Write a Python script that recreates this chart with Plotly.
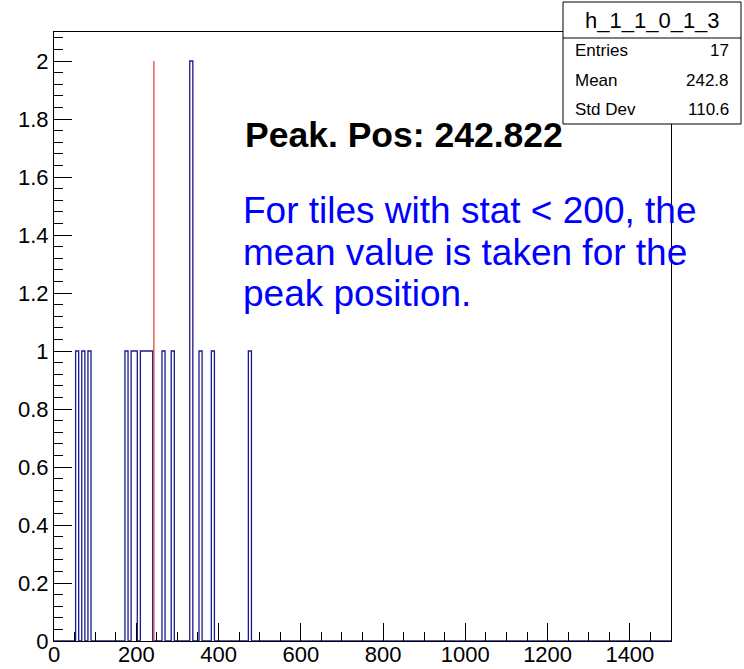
import numpy as np
import plotly.graph_objects as go

# ---------------- data ----------------
hist_name = "h_1_1_0_1_3"
x_min, x_max, n_bins = 0.0, 1500.0, 200
bin_low_edges = [52.5, 67.5, 82.5, 172.5, 187.5, 195.0, 210.0, 217.5, 225.0, 232.5,
                 262.5, 285.0, 330.0, 352.5, 382.5, 472.5]
bin_counts = [1, 1, 1, 1, 1, 1, 1, 1, 1, 1, 1, 1, 2, 1, 1, 1]
peak_pos = 242.822
peak_height = 2
stat_labels = ["Entries", "Mean", "Std Dev"]
stat_values = ["17", "242.8", "110.6"]
peak_text = "Peak. Pos: 242.822"
note_lines = ["For tiles with stat < 200, the", "mean value is taken for the", "peak position."]
x_tick_vals = [0, 200, 400, 600, 800, 1000, 1200, 1400]
y_range = [0, 2.1]

# ---------------- build full histogram ----------------
bw = (x_max - x_min) / n_bins
edges = x_min + bw * np.arange(n_bins + 1)
full = np.zeros(n_bins)
for lo, c in zip(bin_low_edges, bin_counts):
    full[int(round((lo - x_min) / bw))] += c
step_x = edges
step_y = np.append(full, full[-1])

FONT = "Liberation Sans, Arial, Helvetica, sans-serif"
W, H = 744, 669
L, R, T, B = 54, 73, 32, 28
pw, ph = W - L - R, H - T - B


def px(p):
    return (p - L) / pw


def py(p):
    return (H - B - p) / ph


fig = go.Figure()
fig.add_trace(go.Scatter(x=step_x, y=step_y, mode="lines", line_shape="hv",
                         line=dict(color="#1a1a8c", width=1.3), showlegend=False,
                         hoverinfo="skip"))
fig.add_trace(go.Scatter(x=[peak_pos, peak_pos], y=[0, peak_height], mode="lines",
                         line=dict(color="#ee3030", width=1.2), showlegend=False))

shapes = []
# stats box
bx0, bx1, by0, by1, bsep = 563, 741, 2, 124, 38
shapes.append(dict(type="rect", xref="paper", yref="paper", x0=px(bx0), x1=px(bx1),
                   y0=py(by1), y1=py(by0), line=dict(color="black", width=1),
                   fillcolor="white", layer="above"))
shapes.append(dict(type="line", xref="paper", yref="paper", x0=px(bx0), x1=px(bx1),
                   y0=py(bsep), y1=py(bsep), line=dict(color="black", width=1), layer="above"))

ann = []
ann.append(dict(x=px((bx0 + bx1) / 2), y=py(20), xref="paper", yref="paper", text=hist_name,
                showarrow=False, xanchor="center", yanchor="middle",
                font=dict(family=FONT, size=22, color="black")))
row_y = [51, 80, 110]
for lab, val, yy in zip(stat_labels, stat_values, row_y):
    ann.append(dict(x=px(bx0 + 10), y=py(yy), xref="paper", yref="paper", text=lab,
                    showarrow=False, xanchor="left", yanchor="middle",
                    font=dict(family=FONT, size=17, color="black")))
    ann.append(dict(x=px(bx1 - 10), y=py(yy), xref="paper", yref="paper", text=val,
                    showarrow=False, xanchor="right", yanchor="middle",
                    font=dict(family=FONT, size=17, color="black")))

ann.append(dict(x=px(243), y=py(135), xref="paper", yref="paper", text="<b>" + peak_text + "</b>",
                showarrow=False, xanchor="left", yanchor="middle",
                font=dict(family=FONT, size=35.5, color="black")))
for i, line in enumerate(note_lines):
    ann.append(dict(x=px(241), y=py(211 + 41 * i), xref="paper", yref="paper", text=line,
                    showarrow=False, xanchor="left", yanchor="middle",
                    font=dict(family=FONT, size=37, color="#0000ff")))

fig.update_layout(
    width=W, height=H,
    margin=dict(l=L, r=R, t=T, b=B, autoexpand=False),
    paper_bgcolor="white", plot_bgcolor="white",
    shapes=shapes, annotations=ann,
    xaxis=dict(range=[x_min, x_max], tickvals=x_tick_vals, ticks="inside", ticklen=18,
               tickcolor="black", tickwidth=1, showline=True, linecolor="black", linewidth=1,
               mirror=True, showgrid=False, zeroline=False, automargin=False,
               ticklabelstandoff=-6,
               tickfont=dict(family=FONT, size=22, color="black"),
               minor=dict(dtick=50, tick0=0, ticks="inside", ticklen=9, tickcolor="black",
                          showgrid=False)),
    yaxis=dict(range=y_range, dtick=0.2, tick0=0, ticks="inside", ticklen=18,
               tickcolor="black", tickwidth=1, showline=True, linecolor="black", linewidth=1,
               mirror=True, showgrid=False, zeroline=False, automargin=False,
               tickfont=dict(family=FONT, size=22, color="black"),
               minor=dict(dtick=0.04, tick0=0, ticks="inside", ticklen=9, tickcolor="black",
                          showgrid=False)),
)

fig.write_html("out.html", config={"displayModeBar": False},
               post_script="document.body.style.margin='0';document.body.style.padding='0';"
                           "document.body.style.overflow='hidden';")
